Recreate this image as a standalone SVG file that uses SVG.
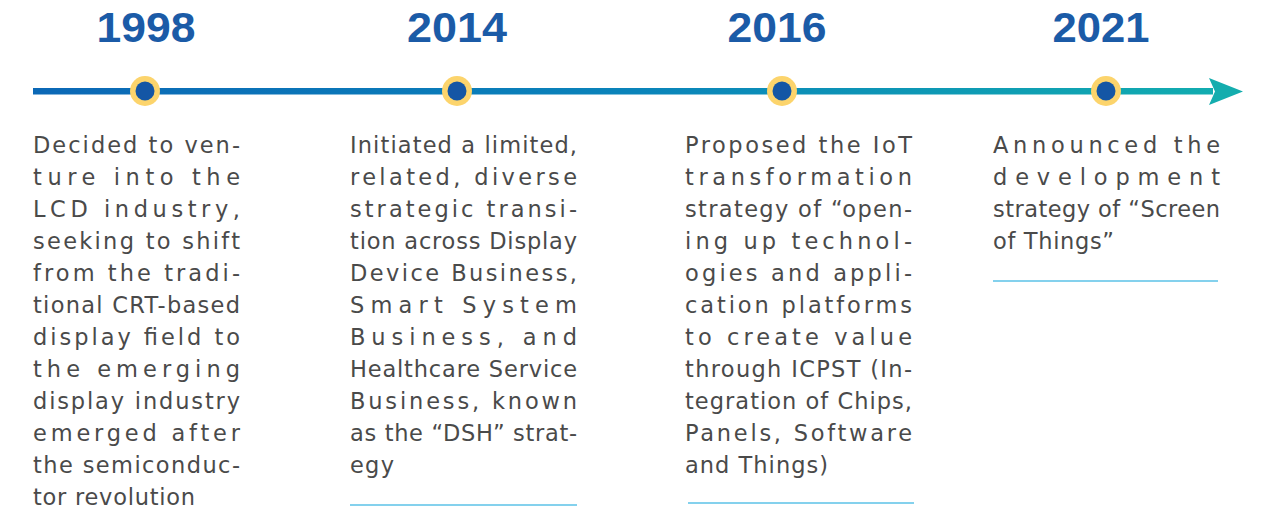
<svg xmlns="http://www.w3.org/2000/svg" width="1274" height="512" viewBox="0 0 1274 512">
<defs>
<linearGradient id="lineGrad" x1="33" y1="0" x2="1242" y2="0" gradientUnits="userSpaceOnUse">
<stop offset="0" stop-color="#0B68B6"/>
<stop offset="0.5" stop-color="#0A84BA"/>
<stop offset="1" stop-color="#12AEAF"/>
</linearGradient>
<style>
.year{font-family:"Liberation Sans",Arial,sans-serif;font-weight:bold;font-size:42px;fill:#1B5BA7;text-anchor:middle}
.body{font-family:"DejaVu Sans","Noto Sans",sans-serif;font-size:22.5px;fill:#4A4A4A}
.ring{fill:#FCD46C}
.dot{fill:#1456A5}
.rule{stroke:#5BC2E7;stroke-width:1.5}
</style>
</defs>
<g id="connectors">
<rect x="33" y="88" width="1180" height="6.5" fill="url(#lineGrad)"/>
<path d="M1209,78 L1243,91.5 L1209,105 L1215,91.5 Z" fill="#14ADAE"/>
</g>
<g id="node-1998">
<text class="year" x="146" y="42" textLength="99" lengthAdjust="spacingAndGlyphs">1998</text>
<circle class="ring" cx="145" cy="91" r="15"/>
<circle class="dot" cx="145" cy="91" r="9.5"/>
<text class="body">
<tspan x="33" y="153" textLength="207" lengthAdjust="spacing">Decided to ven-</tspan>
<tspan x="33" y="185" textLength="207" lengthAdjust="spacing">ture into the</tspan>
<tspan x="33" y="217" textLength="207" lengthAdjust="spacing">LCD industry,</tspan>
<tspan x="33" y="249" textLength="207" lengthAdjust="spacing">seeking to shift</tspan>
<tspan x="33" y="281" textLength="207" lengthAdjust="spacing">from the tradi-</tspan>
<tspan x="33" y="313" textLength="207" lengthAdjust="spacing">tional CRT-based</tspan>
<tspan x="33" y="345" textLength="207" lengthAdjust="spacing">display field to</tspan>
<tspan x="33" y="377" textLength="207" lengthAdjust="spacing">the emerging</tspan>
<tspan x="33" y="409" textLength="207" lengthAdjust="spacing">display industry</tspan>
<tspan x="33" y="441" textLength="207" lengthAdjust="spacing">emerged after</tspan>
<tspan x="33" y="473" textLength="207" lengthAdjust="spacing">the semiconduc-</tspan>
<tspan x="33" y="505" textLength="162" lengthAdjust="spacing">tor revolution</tspan>
</text>
</g>
<g id="node-2014">
<text class="year" x="457" y="42" textLength="100" lengthAdjust="spacingAndGlyphs">2014</text>
<circle class="ring" cx="457" cy="91" r="15"/>
<circle class="dot" cx="457" cy="91" r="9.5"/>
<text class="body">
<tspan x="350" y="153" textLength="227" lengthAdjust="spacing">Initiated a limited,</tspan>
<tspan x="350" y="185" textLength="227" lengthAdjust="spacing">related, diverse</tspan>
<tspan x="350" y="217" textLength="227" lengthAdjust="spacing">strategic transi-</tspan>
<tspan x="350" y="249" textLength="227" lengthAdjust="spacing">tion across Display</tspan>
<tspan x="350" y="281" textLength="227" lengthAdjust="spacing">Device Business,</tspan>
<tspan x="350" y="313" textLength="227" lengthAdjust="spacing">Smart System</tspan>
<tspan x="350" y="345" textLength="227" lengthAdjust="spacing">Business, and</tspan>
<tspan x="350" y="377" textLength="227" lengthAdjust="spacing">Healthcare Service</tspan>
<tspan x="350" y="409" textLength="227" lengthAdjust="spacing">Business, known</tspan>
<tspan x="350" y="441" textLength="227" lengthAdjust="spacing">as the “DSH” strat-</tspan>
<tspan x="350" y="473" textLength="44" lengthAdjust="spacing">egy</tspan>
</text>
<line class="rule" x1="350" y1="505" x2="577" y2="505"/>
</g>
<g id="node-2016">
<text class="year" x="777" y="42" textLength="99" lengthAdjust="spacingAndGlyphs">2016</text>
<circle class="ring" cx="782" cy="91" r="15"/>
<circle class="dot" cx="782" cy="91" r="9.5"/>
<text class="body">
<tspan x="685" y="153" textLength="227" lengthAdjust="spacing">Proposed the IoT</tspan>
<tspan x="685" y="185" textLength="227" lengthAdjust="spacing">transformation</tspan>
<tspan x="685" y="217" textLength="227" lengthAdjust="spacing">strategy of “open-</tspan>
<tspan x="685" y="249" textLength="227" lengthAdjust="spacing">ing up technol-</tspan>
<tspan x="685" y="281" textLength="227" lengthAdjust="spacing">ogies and appli-</tspan>
<tspan x="685" y="313" textLength="227" lengthAdjust="spacing">cation platforms</tspan>
<tspan x="685" y="345" textLength="227" lengthAdjust="spacing">to create value</tspan>
<tspan x="685" y="377" textLength="227" lengthAdjust="spacing">through ICPST (In-</tspan>
<tspan x="685" y="409" textLength="227" lengthAdjust="spacing">tegration of Chips,</tspan>
<tspan x="685" y="441" textLength="227" lengthAdjust="spacing">Panels, Software</tspan>
<tspan x="685" y="473" textLength="143" lengthAdjust="spacing">and Things)</tspan>
</text>
<line class="rule" x1="688" y1="503" x2="914" y2="503"/>
</g>
<g id="node-2021">
<text class="year" x="1101" y="42" textLength="97" lengthAdjust="spacingAndGlyphs">2021</text>
<circle class="ring" cx="1106" cy="91" r="15"/>
<circle class="dot" cx="1106" cy="91" r="9.5"/>
<text class="body">
<tspan x="993" y="153" textLength="227" lengthAdjust="spacing">Announced the</tspan>
<tspan x="993" y="185" textLength="227" lengthAdjust="spacing">development</tspan>
<tspan x="993" y="217" textLength="227" lengthAdjust="spacing">strategy of “Screen</tspan>
<tspan x="993" y="249" textLength="121" lengthAdjust="spacing">of Things”</tspan>
</text>
<line class="rule" x1="993" y1="281" x2="1218" y2="281"/>
</g>
</svg>
